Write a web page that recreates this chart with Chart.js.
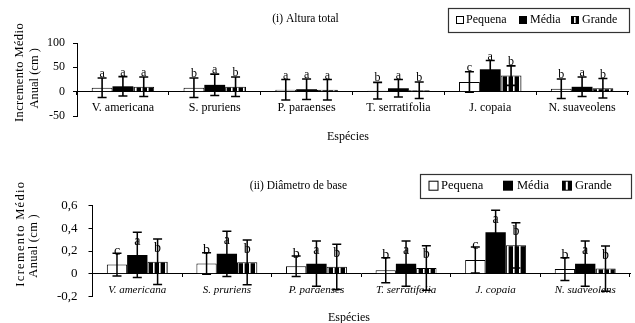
<!DOCTYPE html>
<html><head><meta charset="utf-8">
<script src="https://cdn.jsdelivr.net/npm/chart.js@4/dist/chart.umd.min.js"></script>
<style>
html,body{margin:0;padding:0;background:#fff;}
#wrap{position:relative;width:635px;height:323px;overflow:hidden;}
#c1{position:absolute;left:0;top:0;}
#c2{position:absolute;left:0;top:161px;}
</style></head><body>
<div id="wrap"><canvas id="c1" width="635" height="161"></canvas><canvas id="c2" width="635" height="162"></canvas></div>
<script>
// ---------- data ----------
const categories = ['V. americana', 'S. pruriens', 'P. paraenses', 'T. serratifolia', 'J. copaia', 'N. suaveolens'];
const seriesNames = ['Pequena', 'Média', 'Grande'];

const alturaTitle = '(i) Altura total';
const alturaPequena = [8, 8, 4, 2, 20, 6];
const alturaMedia   = [11, 14, 5, 7, 46, 10];
const alturaGrande  = [10, 10, 4, 3, 33, 7];
const alturaErrPequena = [20, 20, 21, 17, 21, 20];
const alturaErrMedia   = [20, 22, 21, 18, 18, 20];
const alturaErrGrande  = [20, 20, 21, 17, 20, 20];
const alturaLetPequena = ['a', 'b', 'a', 'b', 'c', 'b'];
const alturaLetMedia   = ['a', 'a', 'a', 'a', 'a', 'a'];
const alturaLetGrande  = ['a', 'b', 'a', 'b', 'b', 'b'];
const alturaTicks = [-50, 0, 50, 100];

const diamTitle = '(ii) Diâmetro de base';
const diamPequena = [0.08, 0.09, 0.065, 0.03, 0.12, 0.04];
const diamMedia   = [0.165, 0.175, 0.088, 0.088, 0.365, 0.088];
const diamGrande  = [0.105, 0.1, 0.06, 0.05, 0.25, 0.045];
const diamErrPequena = [0.1, 0.095, 0.09, 0.11, 0.115, 0.1];
const diamErrMedia   = [0.2, 0.2, 0.2, 0.2, 0.195, 0.2];
const diamErrGrande  = [0.2, 0.197, 0.2, 0.197, 0.2, 0.2];
const diamLetPequena = ['c', 'b', 'b', 'b', 'c', 'b'];
const diamLetMedia   = ['a', 'a', 'a', 'a', 'a', 'a'];
const diamLetGrande  = ['b', 'b', 'b', 'b', 'b', 'b'];
const diamTicks = [-0.2, 0, 0.2, 0.4, 0.6];

const yTitleTop = ['Incremento Médio', 'Anual (cm )'];
const yTitleBottom = ['Icremento Médio', 'Anual (cm )'];
const xTitle = 'Espécies';

// ---------- styles ----------
const SERIF = '"Liberation Serif", "Times New Roman", serif';
function stripePattern() {
  const c = document.createElement('canvas');
  c.width = 6; c.height = 6;
  const g = c.getContext('2d');
  g.fillStyle = '#000'; g.fillRect(0, 0, 6, 6);
  g.fillStyle = '#fff'; g.fillRect(3, 0, 1.6, 6);
  return g.createPattern(c, 'repeat');
}

const deco = {
  id: 'deco',
  afterDatasetsDraw(chart, args, o) {
    const ctx = chart.ctx, ys = chart.scales.y;
    ctx.save();
    chart.data.datasets.forEach((ds, di) => {
      const meta = chart.getDatasetMeta(di);
      meta.data.forEach((bar, i) => {
        const v = ds.data[i], e = ds.errors[i];
        const x = bar.x;
        const yt = ys.getPixelForValue(v + e), yb = ys.getPixelForValue(v - e);
        ctx.strokeStyle = '#000'; ctx.lineWidth = o.errWidth;
        ctx.beginPath();
        ctx.moveTo(x, yt); ctx.lineTo(x, yb);
        ctx.moveTo(x - o.cap, yt); ctx.lineTo(x + o.cap, yt);
        ctx.moveTo(x - o.cap, yb); ctx.lineTo(x + o.cap, yb);
        ctx.stroke();
        ctx.fillStyle = '#000'; ctx.font = o.letterFont; ctx.textAlign = 'center';
        ctx.textBaseline = o.letterBaseline;
        ctx.fillText(ds.letters[i], x, yt + o.letterOffset[di]);
      });
    });
    ctx.restore();
  },
  afterDraw(chart, args, o) {
    const ctx = chart.ctx;
    ctx.save();
    ctx.fillStyle = '#000';
    // title
    ctx.font = o.titleFont; ctx.textAlign = 'center'; ctx.textBaseline = 'middle';
    ctx.fillText(o.title.text, o.title.x, o.title.y);
    // x title
    ctx.font = o.xTitleFont;
    ctx.fillText(o.xTitle.text, o.xTitle.x, o.xTitle.y);
    // y title
    o.yTitle.forEach(l => {
      ctx.save();
      ctx.translate(l.x, l.y); ctx.rotate(-Math.PI / 2);
      ctx.font = o.yTitleFont; ctx.letterSpacing = l.ls;
      ctx.textAlign = 'center'; ctx.textBaseline = 'middle';
      ctx.fillText(l.text, 0, 0);
      ctx.restore();
    });
    // legend
    const L = o.legend;
    ctx.strokeStyle = '#333'; ctx.lineWidth = 1.2;
    ctx.strokeRect(L.box[0], L.box[1], L.box[2], L.box[3]);
    ctx.font = L.font; ctx.textAlign = 'left'; ctx.textBaseline = 'middle';
    chart.data.datasets.forEach((ds, di) => {
      const sx = L.sqX[di], sy = L.cy - L.sq / 2, s = L.sq;
      if (di === 0) {
        ctx.fillStyle = '#fff'; ctx.fillRect(sx, sy, s, s);
        ctx.strokeStyle = '#000'; ctx.lineWidth = 1; ctx.strokeRect(sx + 0.5, sy + 0.5, s - 1, s - 1);
      } else if (di === 1) {
        ctx.fillStyle = '#000'; ctx.fillRect(sx, sy, s, s);
      } else {
        ctx.fillStyle = '#000'; ctx.fillRect(sx, sy, s, s);
        ctx.fillStyle = '#fff'; ctx.fillRect(sx + s * 0.38, sy + 1, s * 0.2, s - 2);
      }
      ctx.fillStyle = '#000';
      ctx.fillText(ds.label, L.textX[di], L.cy);
    });
    ctx.restore();
  }
};

function datasets(vals, errs, lets) {
  const pat = stripePattern();
  const fills = ['#fff', '#000', pat];
  return seriesNames.map((name, k) => ({
    label: name,
    data: vals[k],
    errors: errs[k],
    letters: lets[k],
    backgroundColor: fills[k],
    borderColor: '#000',
    borderWidth: k === 1 ? 0 : 1,
    categoryPercentage: 0.68,
    barPercentage: 1.0
  }));
}

function makeChart(canvas, cfg) {
  return new Chart(canvas, {
    type: 'bar',
    data: {
      labels: categories,
      datasets: datasets(cfg.vals, cfg.errs, cfg.lets)
    },
    options: {
      responsive: false,
      animation: false,
      devicePixelRatio: 1,
      layout: { padding: cfg.padding },
      plugins: {
        legend: { display: false },
        title: { display: false },
        tooltip: { enabled: false },
        deco: cfg.deco
      },
      scales: {
        x: {
          position: { y: 0 },
          grid: { display: true, drawOnChartArea: false, drawTicks: true, tickLength: 3, color: '#000', offset: true },
          border: { display: true, color: '#000', width: 1 },
          ticks: { color: '#000', font: cfg.xFont, padding: cfg.xPad, maxRotation: 0, autoSkip: false }
        },
        y: {
          min: cfg.ticks[0], max: cfg.ticks[cfg.ticks.length - 1],
          afterBuildTicks: s => { s.ticks = cfg.ticks.map(v => ({ value: v })); },
          afterFit: s => { s.width = cfg.yWidth; },
          grid: { display: true, drawOnChartArea: false, drawTicks: true, tickLength: 4, color: '#000' },
          border: { display: true, color: '#000', width: 1 },
          ticks: { color: '#000', font: cfg.yFont, padding: cfg.yPad, callback: cfg.fmt }
        }
      }
    },
    plugins: [deco]
  });
}

makeChart(document.getElementById('c1'), {
  vals: [alturaPequena, alturaMedia, alturaGrande],
  errs: [alturaErrPequena, alturaErrMedia, alturaErrGrande],
  lets: [alturaLetPequena, alturaLetMedia, alturaLetGrande],
  ticks: alturaTicks,
  padding: { top: 43, right: 7, bottom: 45, left: 0 },
  yWidth: 77,
  xFont: { family: SERIF, size: 12 },
  xPad: 6,
  yFont: { family: SERIF, size: 12 },
  yPad: 8,
  fmt: v => String(v),
  deco: {
    errWidth: 1.6, cap: 4.5,
    letterFont: '12px ' + SERIF, letterBaseline: 'alphabetic', letterOffset: [-1, -1, -1],
    titleFont: '11.5px ' + SERIF,
    title: { text: alturaTitle, x: 305.5, y: 18.5 },
    xTitleFont: '12px ' + SERIF,
    xTitle: { text: xTitle, x: 348, y: 137 },
    yTitleFont: '12.5px ' + SERIF,
    yTitle: [
      { text: yTitleTop[0], x: 20, y: 72.5, ls: '0.4px' },
      { text: yTitleTop[1], x: 35, y: 78.3, ls: '0px' }
    ],
    legend: { box: [448.5, 8.5, 181, 24], sq: 8, sqX: [456, 519, 571], textX: [466, 530, 582], cy: 20, font: '12px ' + SERIF }
  }
});

makeChart(document.getElementById('c2'), {
  vals: [diamPequena, diamMedia, diamGrande],
  errs: [diamErrPequena, diamErrMedia, diamErrGrande],
  lets: [diamLetPequena, diamLetMedia, diamLetGrande],
  ticks: diamTicks,
  padding: { top: 44.7, right: 5, bottom: 26.7, left: 0 },
  yWidth: 92.5,
  xFont: { family: SERIF, size: 11, style: 'italic' },
  xPad: 7,
  yFont: { family: SERIF, size: 13 },
  yPad: 11,
  fmt: v => String(Math.round(v * 10) / 10).replace('.', ','),
  deco: {
    errWidth: 1.5, cap: 4.5,
    letterFont: '14px ' + SERIF, letterBaseline: 'middle', letterOffset: [-2, 9, 9],
    titleFont: '11.5px ' + SERIF,
    title: { text: diamTitle, x: 298.5, y: 25 },
    xTitleFont: '12px ' + SERIF,
    xTitle: { text: xTitle, x: 349, y: 157 },
    yTitleFont: '12.5px ' + SERIF,
    yTitle: [
      { text: yTitleBottom[0], x: 20.3, y: 72.7, ls: '1.3px' },
      { text: yTitleBottom[1], x: 33.3, y: 84.8, ls: '0.3px' }
    ],
    legend: { box: [420.5, 13.5, 211, 24], sq: 10, sqX: [428.5, 503, 562], textX: [441, 517, 575], cy: 24.7, font: '12.5px ' + SERIF }
  }
});
</script>
</body></html>
